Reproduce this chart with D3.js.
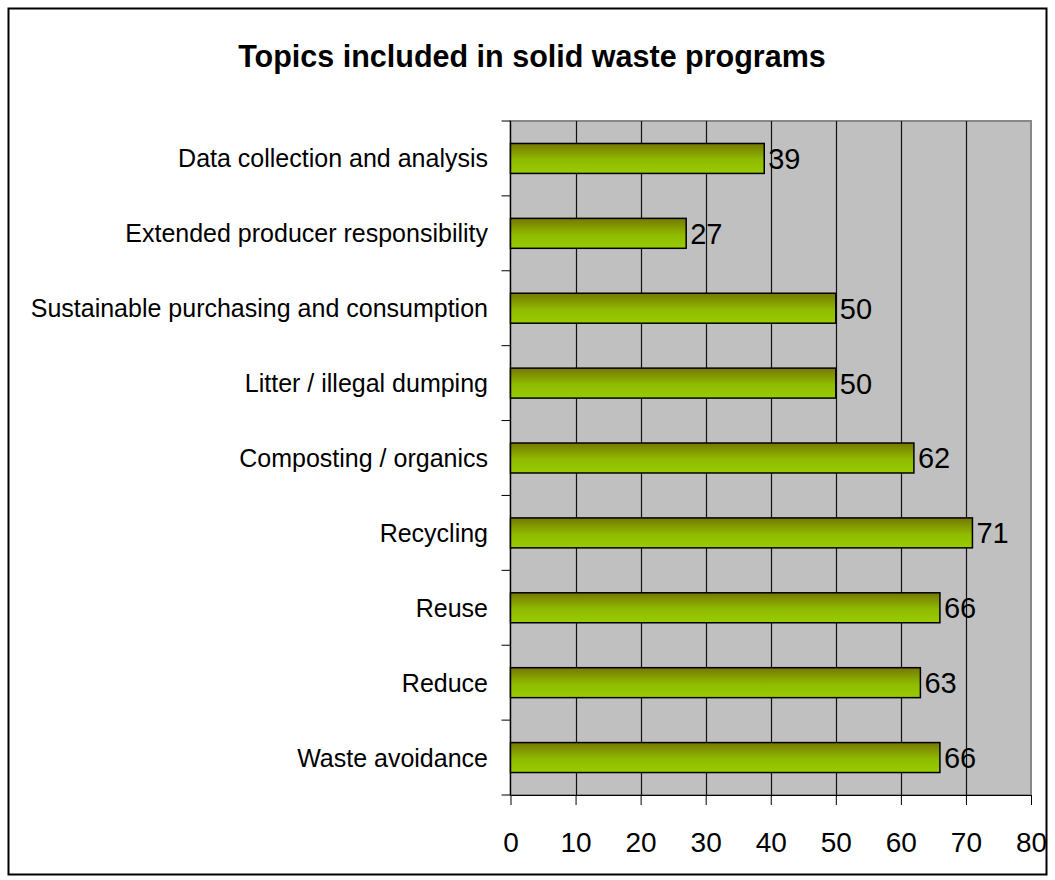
<!DOCTYPE html>
<html><head><meta charset="utf-8">
<script src="https://cdn.jsdelivr.net/npm/d3@7"></script>
<style>body{margin:0;background:#fff}svg{display:block}text{font-family:"Liberation Sans",Arial,sans-serif}</style>
</head><body>
<script>
const categories = ["Data collection and analysis","Extended producer responsibility","Sustainable purchasing and consumption","Litter / illegal dumping","Composting / organics","Recycling","Reuse","Reduce","Waste avoidance"];
const values = [39,27,50,50,62,71,66,63,66];
const xTicks = [0,10,20,30,40,50,60,70,80];
const title = "Topics included in solid waste programs";

const W=1055,H=880;
const svg=d3.select("body").append("svg").attr("width",W).attr("height",H);
const defs=svg.append("defs");
const g=defs.append("linearGradient").attr("id","bg").attr("x1",0).attr("y1",0).attr("x2",0).attr("y2",1);
g.append("stop").attr("offset","0%").attr("stop-color","#767800");
g.append("stop").attr("offset","55%").attr("stop-color","#8fbb00");
g.append("stop").attr("offset","100%").attr("stop-color","#99cc00");

svg.append("rect").attr("x",8.5).attr("y",8.5).attr("width",1038).attr("height",866).attr("fill","#fff").attr("stroke","#000").attr("stroke-width",2);

const L=510.5,R=1031,T=121,B=795;
const x=d3.scaleLinear().domain([0,80]).range([L,R]);
const y=d3.scaleBand().domain(categories).range([T,B]).paddingInner(0.6).paddingOuter(0.3);
const yb=d3.scaleBand().domain(categories).range([T,B]);

svg.append("rect").attr("x",L).attr("y",T).attr("width",R-L).attr("height",B-T).attr("fill","#c0c0c0").attr("stroke","#888").attr("stroke-width",2);
svg.append("g").selectAll("line").data(xTicks.slice(1,-1)).join("line")
  .attr("x1",d=>Math.round(x(d))+0.5).attr("x2",d=>Math.round(x(d))+0.5).attr("y1",T).attr("y2",B).attr("stroke","#111").attr("stroke-width",1.2);

const xa=svg.append("g").attr("transform",`translate(0,${B})`).call(d3.axisBottom(x).tickValues(xTicks).tickSize(10).tickPadding(27).tickSizeOuter(0));
xa.select(".domain").attr("stroke","#000").attr("stroke-width",1.2);
xa.selectAll(".tick line").attr("stroke","#000");
xa.selectAll("text").attr("font-size",28).attr("fill","#000").attr("font-family","'Liberation Sans',Arial,sans-serif");

svg.append("line").attr("x1",L).attr("x2",L).attr("y1",T).attr("y2",B).attr("stroke","#000").attr("stroke-width",1.2);
const bounds=categories.map(c=>yb(c)).concat([B]);
svg.append("g").selectAll("line").data(bounds).join("line")
  .attr("x1",L-9).attr("x2",L).attr("y1",d=>d).attr("y2",d=>d).attr("stroke","#000");

svg.append("g").selectAll("text").data(categories).join("text")
  .attr("x",488).attr("y",c=>yb(c)+yb.bandwidth()/2).attr("dy","0.36em").attr("text-anchor","end")
  .attr("font-size",25).attr("fill","#000").text(c=>c);

svg.append("g").selectAll("rect").data(values).join("rect")
  .attr("x",x(0)).attr("y",(d,i)=>y(categories[i])).attr("width",d=>x(d)-x(0)).attr("height",y.bandwidth())
  .attr("fill","url(#bg)").attr("stroke","#000").attr("stroke-width",1.5);

svg.append("g").selectAll("text").data(values).join("text")
  .attr("x",d=>x(d)+4).attr("y",(d,i)=>y(categories[i])+y.bandwidth()/2).attr("dy","0.36em")
  .attr("font-size",29).attr("fill","#000").text(d=>d);

svg.append("text").attr("x",532).attr("y",67).attr("text-anchor","middle").attr("font-size",30.5).attr("font-weight","bold").text(title);
</script>
</body></html>
